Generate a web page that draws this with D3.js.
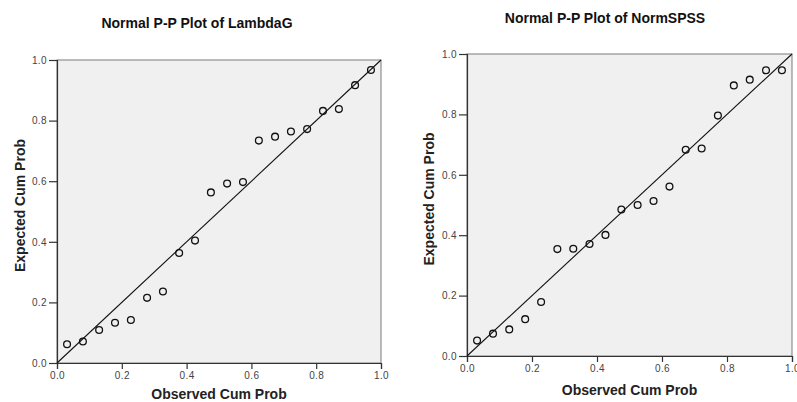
<!DOCTYPE html>
<html>
<head>
<meta charset="utf-8">
<script src="https://cdn.jsdelivr.net/npm/d3@7"></script>
<style>
  html, body { margin: 0; padding: 0; background: #fff; }
  svg { display: block; font-family: "Liberation Sans", Arial, sans-serif; }
</style>
</head>
<body>
<svg id="chart" width="797" height="402"></svg>
<script>
// Data
const observedCumProb = [0.031, 0.080, 0.130, 0.179, 0.228, 0.278, 0.327, 0.377, 0.426, 0.475,
                         0.525, 0.574, 0.623, 0.673, 0.722, 0.772, 0.821, 0.870, 0.920, 0.969];
const expectedLambdaG = [0.062, 0.071, 0.109, 0.133, 0.142, 0.215, 0.236, 0.363, 0.404, 0.563,
                         0.592, 0.597, 0.734, 0.747, 0.764, 0.772, 0.832, 0.838, 0.917, 0.967];
const expectedNormSPSS = [0.051, 0.074, 0.088, 0.122, 0.179, 0.354, 0.355, 0.371, 0.401, 0.485,
                          0.500, 0.513, 0.561, 0.683, 0.687, 0.796, 0.896, 0.915, 0.946, 0.946];
const tickValues = [0.0, 0.2, 0.4, 0.6, 0.8, 1.0];
const titles = ["Normal P-P Plot of LambdaG", "Normal P-P Plot of NormSPSS"];
const xAxisTitle = "Observed Cum Prob";
const yAxisTitle = "Expected Cum Prob";

const svg = d3.select("#chart");

const panels = [
  { title: titles[0], ys: expectedLambdaG,
    left: 57, right: 381, top: 60, bottom: 363,
    titleX: 197, titleY: 27.5, xlabX: 219, xlabY: 399, ylabX: 24.5, ylabY: 205.5 },
  { title: titles[1], ys: expectedNormSPSS,
    left: 467, right: 792, top: 54, bottom: 356,
    titleX: 605, titleY: 22.5, xlabX: 629.5, xlabY: 395, ylabX: 433.5, ylabY: 199 }
];

panels.forEach(p => {
  const x = d3.scaleLinear().domain([0, 1]).range([p.left, p.right]);
  const y = d3.scaleLinear().domain([0, 1]).range([p.bottom, p.top]);
  const g = svg.append("g");

  // plot background + frame
  g.append("rect")
    .attr("x", x(0)).attr("y", y(1))
    .attr("width", x(1) - x(0)).attr("height", y(0) - y(1))
    .attr("fill", "#f0f0f0").attr("stroke", "#7a7a7a").attr("stroke-width", 1);

  // axes
  const fmt = d3.format(".1f");
  const xAxis = g.append("g").attr("transform", `translate(0,${y(0)})`)
    .call(d3.axisBottom(x).tickValues(tickValues).tickFormat(fmt).tickSize(6).tickPadding(3));
  const yAxis = g.append("g").attr("transform", `translate(${x(0)},0)`)
    .call(d3.axisLeft(y).tickValues(tickValues).tickFormat(fmt).tickSize(8).tickPadding(2));
  [xAxis, yAxis].forEach(a => {
    a.select(".domain").attr("stroke", "#333").attr("stroke-width", 1.2);
    a.selectAll(".tick line").attr("stroke", "#333").attr("stroke-width", 1.2);
    a.selectAll(".tick text").attr("fill", "#444").style("font-size", "10px")
      .style("letter-spacing", "0.4px")
      .style("font-family", "'Liberation Sans', Arial, sans-serif");
  });

  // reference line
  g.append("line")
    .attr("x1", x(0)).attr("y1", y(0)).attr("x2", x(1)).attr("y2", y(1))
    .attr("stroke", "#111").attr("stroke-width", 1.1);

  // points
  g.selectAll("circle.pt").data(observedCumProb.map((o, i) => [o, p.ys[i]]))
    .join("circle").attr("class", "pt")
    .attr("cx", d => x(d[0])).attr("cy", d => y(d[1])).attr("r", 3.4)
    .attr("fill", "none").attr("stroke", "#111").attr("stroke-width", 1.3);

  // titles
  g.append("text").attr("x", p.titleX).attr("y", p.titleY)
    .attr("text-anchor", "middle").attr("font-weight", "bold").attr("font-size", 14)
    .attr("fill", "#111").text(p.title);
  g.append("text").attr("x", p.xlabX).attr("y", p.xlabY)
    .attr("text-anchor", "middle").attr("font-weight", "bold").attr("font-size", 14)
    .attr("fill", "#222").text(xAxisTitle);
  g.append("text")
    .attr("transform", `translate(${p.ylabX},${p.ylabY}) rotate(-90)`)
    .attr("text-anchor", "middle").attr("font-weight", "bold").attr("font-size", 14)
    .attr("fill", "#222").text(yAxisTitle);
});
</script>
</body>
</html>
